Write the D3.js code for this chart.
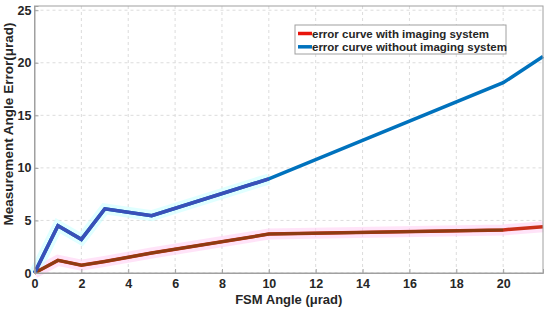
<!DOCTYPE html>
<html>
<head>
<meta charset="utf-8">
<script src="https://cdn.jsdelivr.net/npm/d3@7"></script>
<style>
  body { margin: 0; background: #fff; }
  svg text { font-family: Arial, "Liberation Sans", sans-serif; font-weight: bold; fill: #262626; }
</style>
</head>
<body>
<svg id="chart"></svg>
<script>
// data
const fsmAngle = [0, 1, 2, 3, 5, 10, 20, 21.7];
const errWith = [0, 1.2, 0.75, 1.1, 1.9, 3.7, 4.1, 4.4];
const errWithout = [0, 4.5, 3.2, 6.1, 5.45, 8.95, 18.1, 20.6];
const xTicks = [0, 2, 4, 6, 8, 10, 12, 14, 16, 18, 20];
const yTicks = [0, 5, 10, 15, 20, 25];
const seriesNames = ["error curve with imaging system", "error curve without imaging system"];
const seriesColors = ["#e8140c", "#0072bd"];

function drawChart(){
    const width = 550, height = 310;
    const margin = {top: 6, right: 7, bottom: 37, left: 34.5};

    const svg = d3.select("#chart")
                  .attr("width", width)
                  .attr("height", height);
    svg.selectAll("*").remove();

    const x = d3.scaleLinear().domain([0, 21.7]).range([margin.left, width - margin.right]);
    const y = d3.scaleLinear().domain([0, 25.4]).range([height - margin.bottom, margin.top]);

    const g = svg.append("g");

    // grid
    g.append("g")
        .selectAll("line")
        .data(xTicks)
        .join("line")
        .attr("x1", d => x(d)).attr("x2", d => x(d))
        .attr("y1", y.range()[0]).attr("y2", y.range()[1])
        .attr("stroke", "#dcdcdc").attr("stroke-dasharray", "3,3");
    g.append("g")
        .selectAll("line")
        .data(yTicks)
        .join("line")
        .attr("y1", d => y(d)).attr("y2", d => y(d))
        .attr("x1", x.range()[0]).attr("x2", x.range()[1])
        .attr("stroke", "#dcdcdc").attr("stroke-dasharray", "3,3");

    const pts = ys => fsmAngle.map((a, i) => [a, ys[i]]);
    const line = d3.line().x(d => x(d[0])).y(d => y(d[1]));

    // faint halos behind the curves
    g.append("path").datum(pts(errWith))
        .attr("d", line).attr("fill", "none")
        .attr("stroke", "#ffd0f4").attr("stroke-width", 11).attr("opacity", 0.6);
    g.append("path").datum(pts(errWithout).filter(d => d[0] <= 10))
        .attr("d", line).attr("fill", "none")
        .attr("stroke", "#ccffff").attr("stroke-width", 11).attr("opacity", 0.6);

    // curves
    g.append("path").datum(pts(errWith))
        .attr("d", line).attr("fill", "none")
        .attr("stroke", "#c8301a").attr("stroke-width", 3.5);
    g.append("path").datum(pts(errWith).filter(d => d[0] <= 20))
        .attr("d", line).attr("fill", "none")
        .attr("stroke", "#8e3c12").attr("stroke-width", 3);
    g.append("path").datum(pts(errWithout))
        .attr("d", line).attr("fill", "none")
        .attr("stroke", seriesColors[1]).attr("stroke-width", 3.5);
    g.append("path").datum(pts(errWithout).filter(d => d[0] <= 10))
        .attr("d", line).attr("fill", "none")
        .attr("stroke", "#3a50b8").attr("stroke-width", 3.5);

    // axes box
    g.append("rect")
        .attr("x", x.range()[0]).attr("y", y.range()[1])
        .attr("width", x.range()[1] - x.range()[0])
        .attr("height", y.range()[0] - y.range()[1])
        .attr("fill", "none").attr("stroke", "#a0a0a0");

    const xAxis = g.append("g")
        .attr("transform", `translate(0,${y.range()[0]})`)
        .call(d3.axisBottom(x).tickValues(xTicks).tickSize(-4).tickPadding(6));
    const yAxis = g.append("g")
        .attr("transform", `translate(${x.range()[0]},0)`)
        .call(d3.axisLeft(y).tickValues(yTicks).tickSize(-4).tickPadding(3));
    [xAxis, yAxis].forEach(a => {
        a.select(".domain").attr("stroke", "#a0a0a0");
        a.selectAll(".tick line").attr("stroke", "#a0a0a0");
        a.selectAll("text").style("font-size", "12.5px").style("font-weight", "bold").attr("fill", "#262626");
    });

    svg.append("text")
        .attr("x", (x.range()[0] + x.range()[1]) / 2)
        .attr("y", 304)
        .attr("text-anchor", "middle")
        .style("font-size", "13px")
        .text("FSM Angle (μrad)");
    svg.append("text")
        .attr("transform", "translate(13,124) rotate(-90)")
        .attr("text-anchor", "middle")
        .style("font-size", "13.5px")
        .text("Measurement Angle Error(μrad)");

    // legend
    const leg = svg.append("g").attr("transform", "translate(295,25)");
    leg.append("rect").attr("width", 211).attr("height", 29)
        .attr("fill", "#fff").attr("stroke", "#a0a0a0");
    seriesNames.forEach((name, i) => {
        const ly = 8.5 + i * 13.3;
        leg.append("line").attr("x1", 3).attr("x2", 17).attr("y1", ly).attr("y2", ly)
            .attr("stroke", seriesColors[i]).attr("stroke-width", 3.5);
        leg.append("text").attr("x", 17).attr("y", ly + 4)
            .style("font-size", "11.5px").text(name);
    });
}

drawChart();
</script>
</body>
</html>
